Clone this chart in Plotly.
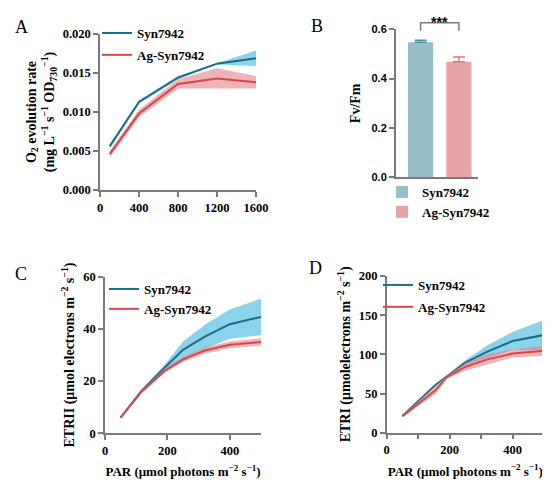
import plotly.graph_objects as go

# ---- data ----
strains = ["Syn7942", "Ag-Syn7942"]

# A: O2 evolution vs light
par_a = [100, 400, 800, 1200, 1600]
syn_a = [0.0056, 0.0113, 0.0144, 0.0162, 0.0169]
syn_a_sd = [0.0003, 0.0002, 0.0002, 0.0001, 0.0010]
ag_a = [0.0046, 0.0098, 0.0136, 0.0143, 0.0138]
ag_a_sd = [0.0004, 0.0005, 0.0006, 0.0013, 0.0008]

# B: Fv/Fm
fvfm = [0.547, 0.468]
fvfm_err = [0.009, 0.020]

# C: ETRII
par_c = [50, 115, 190, 250, 320, 400, 500]
syn_c = [6.0, 16.0, 25.0, 32.0, 37.0, 41.8, 44.6]
syn_c_sd = [0.3, 0.5, 1.2, 3.2, 4.6, 5.6, 7.0]
ag_c = [6.0, 15.7, 23.8, 28.3, 31.7, 33.9, 35.0]
ag_c_sd = [0.3, 0.5, 0.8, 1.0, 1.2, 1.3, 1.4]

# D: ETRI
par_d = [50, 155, 190, 250, 320, 400, 500]
syn_d = [21.3, 61.0, 71.5, 89.4, 103.5, 117.0, 124.7]
syn_d_sd = [0.5, 1.0, 1.5, 3.0, 8.0, 11.5, 19.0]
ag_d = [21.0, 54.0, 70.5, 84.0, 93.6, 101.0, 104.5]
ag_d_sd = [1.0, 5.0, 2.0, 5.0, 6.5, 5.0, 6.5]

SYN_LINE = "#1d6c87"
AG_LINE = "#d8464c"
SYN_BAND = "rgba(100,195,228,0.75)"
AG_BAND = "rgba(228,130,135,0.6)"
SYN_BAR = "#97bfc7"
AG_BAR = "#e8a5a7"
AXIS = "#7a7a7a"
SERIF = "Liberation Serif"
SANS = "Liberation Sans"

W, H = 550, 485
PAGE = 8  # the page's default body margin pushes the plot 8px right and down


def px_x(a, b):
    return [(a - PAGE) / W, (b - PAGE) / W]


def px_y(top, bottom):
    return [1 - (bottom - PAGE) / H, 1 - (top - PAGE) / H]


fig = go.Figure()


def add_band(x, mean, sd, band, line, name, xa, ya, leg):
    lo = [m - s for m, s in zip(mean, sd)]
    hi = [m + s for m, s in zip(mean, sd)]
    fig.add_trace(go.Scatter(x=x, y=lo, mode="lines", line=dict(width=0), xaxis=xa, yaxis=ya,
                             showlegend=False, hoverinfo="skip"))
    fig.add_trace(go.Scatter(x=x, y=hi, mode="lines", line=dict(width=0), fill="tonexty",
                             fillcolor=band, xaxis=xa, yaxis=ya, showlegend=False, hoverinfo="skip"))
    fig.add_trace(go.Scatter(x=x, y=mean, mode="lines", name=name, line=dict(color=line, width=2),
                             xaxis=xa, yaxis=ya, legend=leg, legendgroup=leg + name))


for xa, ya, leg, x, s, ssd, a, asd in [
    ("x", "y", "legend", par_a, syn_a, syn_a_sd, ag_a, ag_a_sd),
    ("x3", "y3", "legend3", par_c, syn_c, syn_c_sd, ag_c, ag_c_sd),
    ("x4", "y4", "legend4", par_d, syn_d, syn_d_sd, ag_d, ag_d_sd),
]:
    add_band(x, s, ssd, SYN_BAND, SYN_LINE, strains[0], xa, ya, leg)
    add_band(x, a, asd, AG_BAND, AG_LINE, strains[1], xa, ya, leg)

# B bars
for i, (col, ecol) in enumerate([(SYN_BAR, "#4f8fa0"), (AG_BAR, "#e0757b")]):
    fig.add_trace(go.Bar(x=[i], y=[fvfm[i]], name=strains[i], marker=dict(color=col, line=dict(width=0)),
                         width=0.66, xaxis="x2", yaxis="y2", legend="legend2", legendgroup="b" + str(i),
                         error_y=dict(type="data", symmetric=False, array=[fvfm_err[i]], arrayminus=[0],
                                      color=ecol, thickness=1.5, width=6)))

tickfont = dict(family=SERIF, size=12.5, color="black", weight="bold")
common = dict(showline=True, linecolor=AXIS, linewidth=1.5, ticks="outside", ticklen=5,
              tickwidth=1.5, tickcolor=AXIS, showgrid=False, zeroline=False, tickfont=tickfont,
              automargin=False)
ytitlefont = dict(family=SERIF, size=14, color="black", weight="bold")
xtitlefont = dict(family=SERIF, size=13, color="black", weight="bold")

fig.update_layout(
    template="none",
    width=W, height=H, margin=dict(l=0, r=0, t=0, b=0, autoexpand=False),
    paper_bgcolor="white", plot_bgcolor="white", barmode="overlay",
    font=dict(family=SERIF, color="black"),
    xaxis=dict(domain=px_x(100, 256), anchor="y", range=[0, 1600], tickvals=[0, 400, 800, 1200, 1600], **common),
    yaxis=dict(domain=px_y(34, 190), anchor="x", range=[0, 0.02], dtick=0.005, tickformat=".3f",
               title=dict(text="O<sub>2</sub> evolution rate<br>(mg L<sup>\u22121</sup> s<sup>\u22121</sup> "
                                "OD<sub>730</sub><sup>\u22121</sup>)", font=ytitlefont, standoff=5),
               **common),
    xaxis2=dict(domain=px_x(395.7, 478), anchor="y2", range=[-0.65, 1.5], showticklabels=False,
                **{**common, "ticks": ""}),
    yaxis2=dict(domain=px_y(29.3, 177.3), anchor="x2", range=[0, 0.6], dtick=0.2, tickformat=".1f",
                title=dict(text="Fv/Fm", font=ytitlefont, standoff=8),
                **{**common, "tickfont": dict(family=SANS, size=11, color="black", weight="bold")}),
    xaxis3=dict(domain=px_x(105, 261), anchor="y3", range=[0, 500], dtick=200,
                title=dict(text="PAR (\u03bcmol photons m<sup>\u22122</sup> s<sup>\u22121</sup>)",
                           font=xtitlefont, standoff=10), **common),
    yaxis3=dict(domain=px_y(276.7, 433.3), anchor="x3", range=[0, 60], dtick=20,
                title=dict(text="ETRII (\u03bcmol electrons m<sup>\u22122</sup> s<sup>\u22121</sup>)",
                           font=ytitlefont, standoff=5), **common),
    xaxis4=dict(domain=px_x(386.7, 544), anchor="y4", range=[0, 500], dtick=200,
                minor=dict(dtick=100, ticks="outside", ticklen=5, tickwidth=1.5, tickcolor=AXIS),
                title=dict(text="PAR (\u03bcmol photons m<sup>\u22122</sup> s<sup>\u22121</sup>)",
                           font=xtitlefont, standoff=10), **common),
    yaxis4=dict(domain=px_y(276, 432.7), anchor="x4", range=[0, 200], dtick=50,
                title=dict(text="ETRI (\u03bcmolelectrons m<sup>\u22122</sup> s<sup>\u22121</sup>)",
                           font=ytitlefont, standoff=5), **common),
)

legfont = dict(family=SERIF, size=13, color="black", weight="bold")
leg_common = dict(bgcolor="rgba(0,0,0,0)", borderwidth=0, font=legfont, tracegroupgap=2,
                  xanchor="left", yanchor="top")
fig.update_layout(
    legend=dict(x=(97 - PAGE) / W, y=1 - (18 - PAGE) / H, **leg_common),
    legend2=dict(x=(382 - PAGE) / W, y=1 - (177 - PAGE) / H, **{**leg_common, "tracegroupgap": 0}),
    legend3=dict(x=(104 - PAGE) / W, y=1 - (274 - PAGE) / H, **{**leg_common, "tracegroupgap": 0}),
    legend4=dict(x=(378 - PAGE) / W, y=1 - (270 - PAGE) / H, **leg_common),
)

# significance bracket in B
fig.add_shape(type="path", xref="x2", yref="y2 domain",
              path=f"M 0,{0.594 / 0.6} L 0,{0.627 / 0.6} L 1,{0.627 / 0.6} L 1,{0.594 / 0.6}",
              line=dict(color=AXIS, width=1.5))
fig.add_annotation(x=0.5, y=0.672 / 0.6, xref="x2", yref="y2 domain", text="***", showarrow=False,
                   font=dict(family=SANS, size=14, color="black", weight="bold"))

# panel letters
for letter, (lx, ly) in zip("ABCD", [(13, 15), (317, 14), (13, 274), (315, 268)]):
    fig.add_annotation(x=(lx - PAGE) / W, y=1 - (ly - PAGE) / H, xref="paper", yref="paper", text=letter,
                       showarrow=False, font=dict(family=SERIF, size=18, color="black"))

fig.write_html("out.html")
